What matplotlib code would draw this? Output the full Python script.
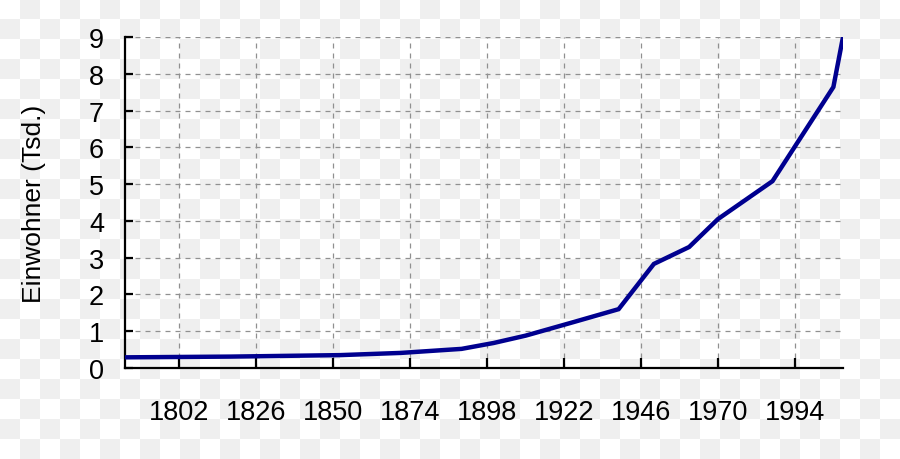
import numpy as np
import matplotlib
matplotlib.use("Agg")
from matplotlib import pyplot as plt

# Einwohner in Tausend
jahre = [1785, 1818, 1852, 1871, 1890, 1900, 1910, 1925, 1939, 1950, 1961, 1970, 1987, 2006, 2009]
einwohner = [0.29, 0.31, 0.35, 0.41, 0.52, 0.68, 0.88, 1.25, 1.6, 2.83, 3.29, 4.05, 5.08, 7.64, 9.0]

x_ticks = [1802, 1826, 1850, 1874, 1898, 1922, 1946, 1970, 1994]
y_ticks = list(range(0, 10))

plt.rcParams['font.family'] = ['Liberation Sans', 'DejaVu Sans']

fig = plt.figure(figsize=(9, 4.6), dpi=100)

# Schachbrett-Hintergrund (Transparenzmuster)
rows, cols = np.indices((460, 900))
checker = ((rows // 20 + cols // 20) % 2).astype(float)
bg = np.where(checker[..., None] == 1, 0xef / 255, 1.0) * np.ones((1, 1, 3))
fig.figimage(bg, 0, 0, origin='upper', zorder=-10)

ax = fig.add_axes([125 / 900, 1 - 369 / 460, (843 - 125) / 900, (369 - 38) / 460])
ax.set_facecolor('none')

ax.plot(jahre, einwohner, color='#00008f', linewidth=3.2, solid_joinstyle='miter', zorder=3)

ax.set_xlim(1785, 2009)
ax.set_ylim(0, 9)
ax.set_xticks(x_ticks)
ax.set_yticks(y_ticks)

ax.grid(True, color='#909090', linestyle=(0, (4, 4)), linewidth=0.9)
for side in ['top', 'right']:
    ax.spines[side].set_visible(False)
for side in ['left', 'bottom']:
    ax.spines[side].set_linewidth(1.6)

ax.tick_params(axis='x', direction='in', length=7, width=1.6, pad=22, labelsize=19.5)
ax.tick_params(axis='y', direction='in', length=6, width=1.6, pad=15, labelsize=19.5)

ax.set_ylabel("Einwohner (Tsd.)", fontsize=19, labelpad=31)

fig.savefig("out.png", dpi=100)
